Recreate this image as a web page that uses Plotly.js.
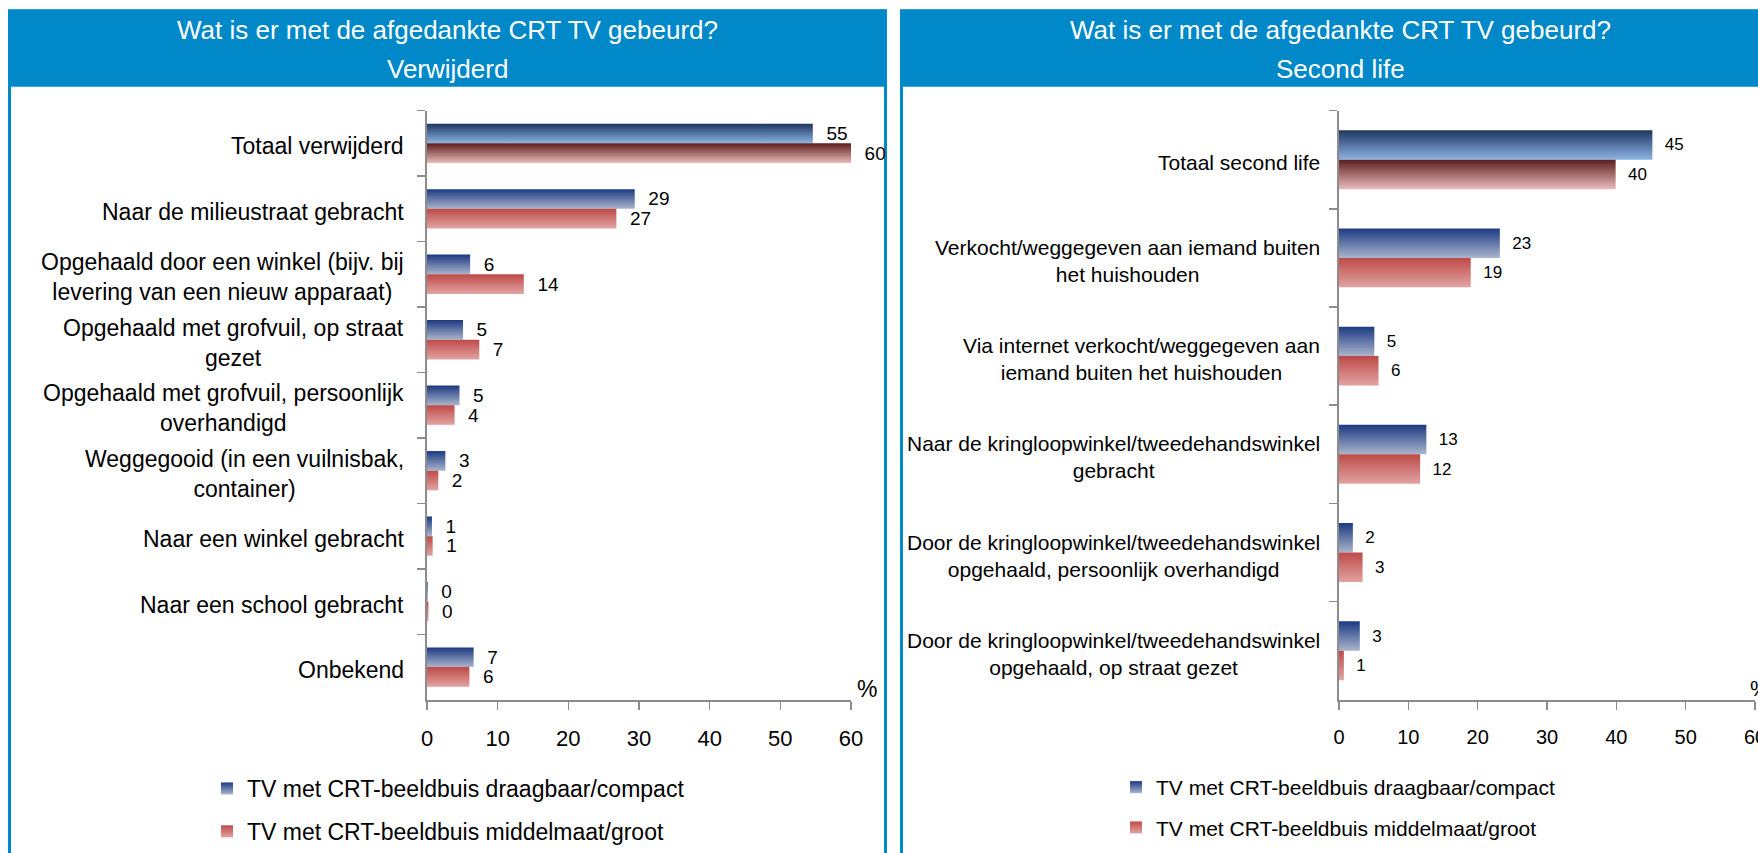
<!DOCTYPE html>
<html>
<head>
<meta charset="utf-8">
<script src="https://cdn.plot.ly/plotly-3.0.1.min.js"></script>
<style>
  html, body { margin: 0; padding: 0; background: #ffffff; }
  #chart { width: 1758px; height: 853px; }
</style>
</head>
<body>
<div id="chart"></div>
<script>
// ---------- DATA ----------
const chartTitle = "Wat is er met de afgedankte CRT TV gebeurd?";
const leftSubtitle = "Verwijderd";
const rightSubtitle = "Second life";
const seriesNames = ["TV met CRT-beeldbuis draagbaar/compact", "TV met CRT-beeldbuis middelmaat/groot"];

const leftCategories = [
  "Totaal verwijderd",
  "Naar de milieustraat gebracht",
  "Opgehaald door een winkel (bijv. bij<br>levering van een nieuw apparaat)",
  "Opgehaald met grofvuil, op straat<br>gezet",
  "Opgehaald met grofvuil, persoonlijk<br>overhandigd",
  "Weggegooid (in een vuilnisbak,<br>container)",
  "Naar een winkel gebracht",
  "Naar een school gebracht",
  "Onbekend"
];
const leftCompact = [54.6, 29.4, 6.1, 5.1, 4.6, 2.6, 0.7, 0.1, 6.6];
const leftMiddel  = [60.0, 26.8, 13.7, 7.4, 3.9, 1.6, 0.8, 0.2, 6.0];

const rightCategories = [
  "Totaal second life",
  "Verkocht/weggegeven aan iemand buiten<br>het huishouden",
  "Via internet verkocht/weggegeven aan<br>iemand buiten het huishouden",
  "Naar de kringloopwinkel/tweedehandswinkel<br>gebracht",
  "Door de kringloopwinkel/tweedehandswinkel<br>opgehaald, persoonlijk overhandigd",
  "Door de kringloopwinkel/tweedehandswinkel<br>opgehaald, op straat gezet"
];
const rightCompact = [45.2, 23.2, 5.1, 12.6, 2.0, 3.0];
const rightMiddel  = [39.9, 19.0, 5.7, 11.7, 3.4, 0.7];

const xTickValues = [0, 10, 20, 30, 40, 50, 60];
const unitLabel = "%";

// ---------- LAYOUT HELPERS ----------
const W = 1758, H = 853;
const px = v => v / W;
const py = v => 1 - v / H;
const FONT = "Liberation Sans, Arial, Helvetica, sans-serif";
const HEADER = "#0088C8";
const AXIS = "#8C8C8C";

const gradients = {
  blue:     ["#1C3A82", "#AAB4CC"],
  blueTot:  ["#1E3560", "#8DB4E3"],
  red:      ["#BD4A47", "#E2A3A2"],
  redTot:   ["#5C1D1C", "#E9BCBB"]
};

function barTrace(cats, vals, name, color, xa, ya, legend, tsize) {
  return {
    type: "bar", orientation: "h",
    y: cats, x: vals, name: name,
    xaxis: xa, yaxis: ya, legend: legend,
    legendgroup: legend + name,
    marker: { color: color, line: { width: 0 } },
    texttemplate: "\u00a0\u00a0%{x:.0f}",
    textposition: "outside",
    constraintext: "none",
    cliponaxis: false,
    textfont: { family: FONT, size: tsize, color: "#000000" },
    hoverinfo: "skip"
  };
}

const data = [
  barTrace(leftCategories, leftCompact, seriesNames[0], "#5A6FA6", "x", "y", "legend", 19),
  barTrace(leftCategories, leftMiddel, seriesNames[1], "#D07A77", "x", "y", "legend", 19),
  barTrace(rightCategories, rightCompact, seriesNames[0], "#5A6FA6", "x2", "y2", "legend2", 17),
  barTrace(rightCategories, rightMiddel, seriesNames[1], "#D07A77", "x2", "y2", "legend2", 17)
];

const yDomain = [py(709), py(112)];

function xAxis(d0, d1, fsize) {
  return {
    domain: [px(d0), px(d1)], range: [0, 60], tickvals: xTickValues,
    showline: true, linecolor: AXIS, linewidth: 2,
    ticks: "outside", ticklen: 8, tickwidth: 1.5, tickcolor: AXIS,
    showgrid: false, zeroline: false, automargin: false, fixedrange: true,
    tickfont: { family: FONT, size: fsize, color: "#000000" },
    ticklabelstandoff: 10, ticklabeloverflow: "allow"
  };
}
function yAxis(n, anchor) {
  return {
    domain: yDomain, type: "category", range: [n - 0.5, -0.5], anchor: anchor,
    showline: true, linecolor: AXIS, linewidth: 2,
    ticks: "outside", ticklen: 8, tickwidth: 1.5, tickcolor: AXIS, tickson: "boundaries",
    showticklabels: false, showgrid: false, zeroline: false, automargin: false, fixedrange: true
  };
}

const annotations = [];
function addText(text, x, y, size, color, xanchor) {
  annotations.push({ text: text, xref: "paper", yref: "paper", x: px(x), y: py(y),
    xanchor: xanchor || "center", yanchor: "middle", showarrow: false,
    font: { family: FONT, size: size, color: color } });
}
addText(chartTitle, 447, 30, 26, "#FFFFFF");
addText(leftSubtitle, 447, 70, 26, "#FFFFFF");
addText(chartTitle, 1340, 30, 26, "#FFFFFF");
addText(rightSubtitle, 1340, 70, 26, "#FFFFFF");
addText(unitLabel, 867, 698, 23, "#000000");
addText(unitLabel, 1748, 697, 22, "#000000", "left");

leftCategories.forEach(c => annotations.push({
  text: c, xref: "paper", yref: "y", x: px(406), y: c, xanchor: "right", yanchor: "middle",
  yshift: -3, align: "center", showarrow: false, font: { family: FONT, size: 23, color: "#000000" }
}));
rightCategories.forEach(c => annotations.push({
  text: c, xref: "paper", yref: "y2", x: px(1322), y: c, xanchor: "right", yanchor: "middle",
  yshift: -3, align: "center", showarrow: false, font: { family: FONT, size: 21, color: "#000000" }
}));

const shapes = [
  { type: "rect", xref: "paper", yref: "paper", x0: px(8), x1: px(887), y0: py(88), y1: py(10),
    fillcolor: HEADER, line: { width: 0 }, layer: "below" },
  { type: "rect", xref: "paper", yref: "paper", x0: px(9.5), x1: px(885.5), y0: py(900), y1: py(11),
    fillcolor: "rgba(0,0,0,0)", line: { color: HEADER, width: 3 }, layer: "below" },
  { type: "rect", xref: "paper", yref: "paper", x0: px(900), x1: px(1820), y0: py(88), y1: py(10),
    fillcolor: HEADER, line: { width: 0 }, layer: "below" },
  { type: "rect", xref: "paper", yref: "paper", x0: px(901.5), x1: px(1820), y0: py(900), y1: py(11),
    fillcolor: "rgba(0,0,0,0)", line: { color: HEADER, width: 3 }, layer: "below" }
];

function legendCfg(x, size) {
  return { x: px(x), y: py(777), xanchor: "left", yanchor: "top", orientation: "v",
    bgcolor: "rgba(0,0,0,0)", borderwidth: 0, traceorder: "grouped", tracegroupgap: 10,
    font: { family: FONT, size: size, color: "#000000" } };
}

const layout = {
  width: W, height: H,
  margin: { l: 0, r: 0, t: 0, b: 0, pad: 0 },
  paper_bgcolor: "#FFFFFF", plot_bgcolor: "rgba(0,0,0,0)",
  barmode: "group", bargap: 0.4, bargroupgap: 0,
  font: { family: FONT, color: "#000000" },
  xaxis: Object.assign(xAxis(427, 851, 22), { anchor: "y" }),
  yaxis: yAxis(leftCategories.length, "x"),
  xaxis2: Object.assign(xAxis(1339, 1755, 20), { anchor: "y2" }),
  yaxis2: yAxis(rightCategories.length, "x2"),
  showlegend: true,
  legend: legendCfg(207, 23),
  legend2: legendCfg(1116, 21),
  annotations: annotations,
  shapes: shapes
};

function applyGradients(gd) {
  const svg = gd.querySelector("svg.main-svg");
  let defs = svg.querySelector("defs");
  if (!defs) { defs = document.createElementNS("http://www.w3.org/2000/svg", "defs"); svg.insertBefore(defs, svg.firstChild); }
  Object.keys(gradients).forEach(k => {
    const g = document.createElementNS("http://www.w3.org/2000/svg", "linearGradient");
    g.setAttribute("id", "grad-" + k);
    g.setAttribute("x1", "0"); g.setAttribute("y1", "0"); g.setAttribute("x2", "0"); g.setAttribute("y2", "1");
    gradients[k].forEach((c, i) => {
      const s = document.createElementNS("http://www.w3.org/2000/svg", "stop");
      s.setAttribute("offset", i === 0 ? "0" : "1");
      s.setAttribute("stop-color", c);
      g.appendChild(s);
    });
    defs.appendChild(g);
  });
  const traces = gd.querySelectorAll(".barlayer .trace");
  traces.forEach((tr, ti) => {
    const isBlue = ti % 2 === 0;
    tr.querySelectorAll(".point path").forEach((p, pi) => {
      const key = (isBlue ? "blue" : "red") + (pi === 0 ? "Tot" : "");
      p.style.fill = "url(#grad-" + key + ")";
    });
  });
  ["legend", "legend2"].forEach(cls => {
    gd.querySelectorAll("g." + cls + " .traces").forEach((t, i) => {
      t.querySelectorAll(".legendpoints path").forEach(p => {
        p.style.fill = "url(#grad-" + (i % 2 === 0 ? "blue" : "red") + ")";
      });
    });
  });
}

const gd = document.getElementById("chart");
Plotly.newPlot(gd, data, layout, { staticPlot: true, displayModeBar: false }).then(() => applyGradients(gd));
</script>
</body>
</html>
